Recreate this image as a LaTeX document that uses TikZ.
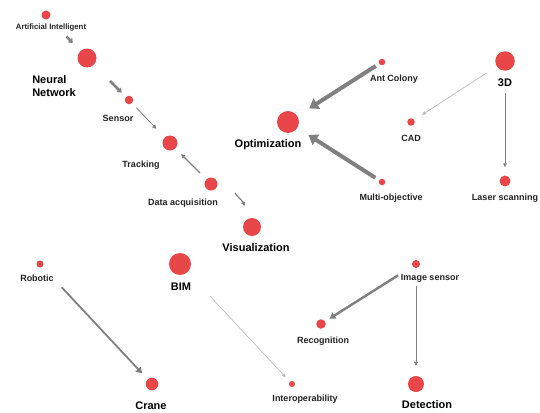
\documentclass[tikz,border=0pt]{standalone}
\usepackage{fontspec}
\setmainfont{Liberation Sans}
\usetikzlibrary{arrows.meta}
\definecolor{dotred}{RGB}{232,70,72}
\definecolor{arrgray}{RGB}{128,128,128}
\definecolor{lightarr}{RGB}{190,190,190}
\definecolor{txt}{RGB}{35,35,35}
\begin{document}
\begin{tikzpicture}[x=1pt,y=-1pt,
  dot/.style={circle,fill=dotred,inner sep=0pt,minimum size=#1},
  sl/.style={font=\bfseries\fontsize{9}{10}\selectfont,text=txt,inner sep=0pt},
  bl/.style={font=\bfseries\fontsize{11}{13}\selectfont,text=black,inner sep=0pt},
  arrthick/.style={draw=arrgray,line width=4pt,-{Triangle[length=9pt,width=12pt]}},
  arrmed/.style={draw=arrgray,line width=2.2pt,-{Triangle[length=6pt,width=7pt]}},
  arrstub/.style={draw=arrgray,line width=2.5pt,-{Triangle[length=4pt,width=6pt]}},
  arrthin/.style={draw=arrgray,line width=1pt,-{Triangle[length=4pt,width=4pt]}},
  arrlight/.style={draw=lightarr,line width=0.7pt,-{Triangle[length=4pt,width=3.5pt]}},
]
\useasboundingbox[fill=white] (0,0) rectangle (540,412);

% nodes (dots)
\node[dot=9pt]  (ai)   at (46,15)  {};
\node[dot=19pt] (nn)   at (87,58)  {};
\node[dot=8.5pt](sen)  at (129,100) {};
\node[dot=15pt] (trk)  at (170,143) {};
\node[dot=13pt] (daq)  at (211,184) {};
\node[dot=18pt] (vis)  at (252,227) {};
\node[dot=22pt] (opt)  at (288,122) {};
\node[dot=6.5pt](ant)  at (382,62)  {};
\node[dot=6.5pt](mo)   at (382,182) {};
\node[dot=19.5pt](d3)  at (505,61)  {};
\node[dot=7.5pt](cad)  at (411,122) {};
\node[dot=11pt] (las)  at (505,181) {};
\node[dot=7pt]  (rob)  at (40,264)  {};
\node[dot=12.5pt](cra) at (152,384) {};
\node[dot=22pt] (bim)  at (180,264) {};
\node[dot=6pt]  (intp) at (292,384) {};
\node[dot=8pt]  (isen) at (416,264) {};
\node[dot=9.5pt](rec)  at (321,324) {};
\node[dot=16pt] (det)  at (416,384) {};

% labels
\node[sl,font=\bfseries\fontsize{7.8}{9}\selectfont] (ail) at (51,28) {Artificial Intelligent};
\node[bl,align=left] (nnl) at (54,86) {Neural\\Network};
\node[sl] (senl) at (118,118) {Sensor};
\node[sl] (trkl) at (141,165) {Tracking};
\node[sl] (daql) at (183,203) {Data acquisition};
\node[bl] (visl) at (256,248) {Visualization};
\node[bl] (optl) at (268,145) {Optimization};
\node[sl] (antl) at (394,79) {Ant Colony};
\node[sl] (cadl) at (411,138) {CAD};
\node[bl] (d3l)  at (505,83) {3D};
\node[sl] (mol)  at (391,198) {Multi-objective};
\node[sl] (lasl) at (505,198) {Laser scanning};
\node[sl] (robl) at (37,278) {Robotic};
\node[bl] (biml) at (181,287) {BIM};
\node[bl] (cral) at (151,406) {Crane};
\node[sl] (intpl) at (305,399) {Interoperability};
\node[sl] (isenl) at (430,278) {Image sensor};
\node[sl] (recl) at (323,341) {Recognition};
\node[bl] (detl) at (427,405) {Detection};

% connectors
\draw[arrstub,shorten <=25pt,shorten >=11pt] (ai) -- (nn);
\draw[arrstub,shorten <=23pt,shorten >=6pt] (nn) -- (sen);
\draw[arrthin,line width=0.8pt,shorten <=6pt,shorten >=12pt] (sen) -- (trk);
\draw[arrthin,line width=1.4pt,shorten <=9pt,shorten >=8pt] (daq) -- (trk);
\draw[arrthin,line width=1.2pt,shorten <=19pt,shorten >=13pt] (daq) to[bend left=25] (vis);
\draw[arrthick,shorten <=4pt,shorten >=14pt] (ant) -- (opt);
\draw[arrthick,shorten <=4.5pt,shorten >=13pt] (mo) -- (opt);
\draw[arrlight,shorten <=12pt,shorten >=9pt] (d3) -- (cad);
\draw[arrlight,draw=arrgray,line width=0.6pt,shorten <=22pt,shorten >=8pt] (d3) -- (las);
\draw[arrmed,line width=1.8pt,shorten <=28pt,shorten >=8pt] (rob) -- (cra);
\draw[arrlight,shorten <=33pt,shorten >=6pt] (bim) -- (intp);
\draw[arrmed,line width=2.4pt,shorten <=17pt,shorten >=5pt] (isen) -- (rec);
\draw[arrthin,line width=0.9pt,shorten <=18pt,shorten >=10pt] (isen) -- (det);
\end{tikzpicture}
\end{document}
